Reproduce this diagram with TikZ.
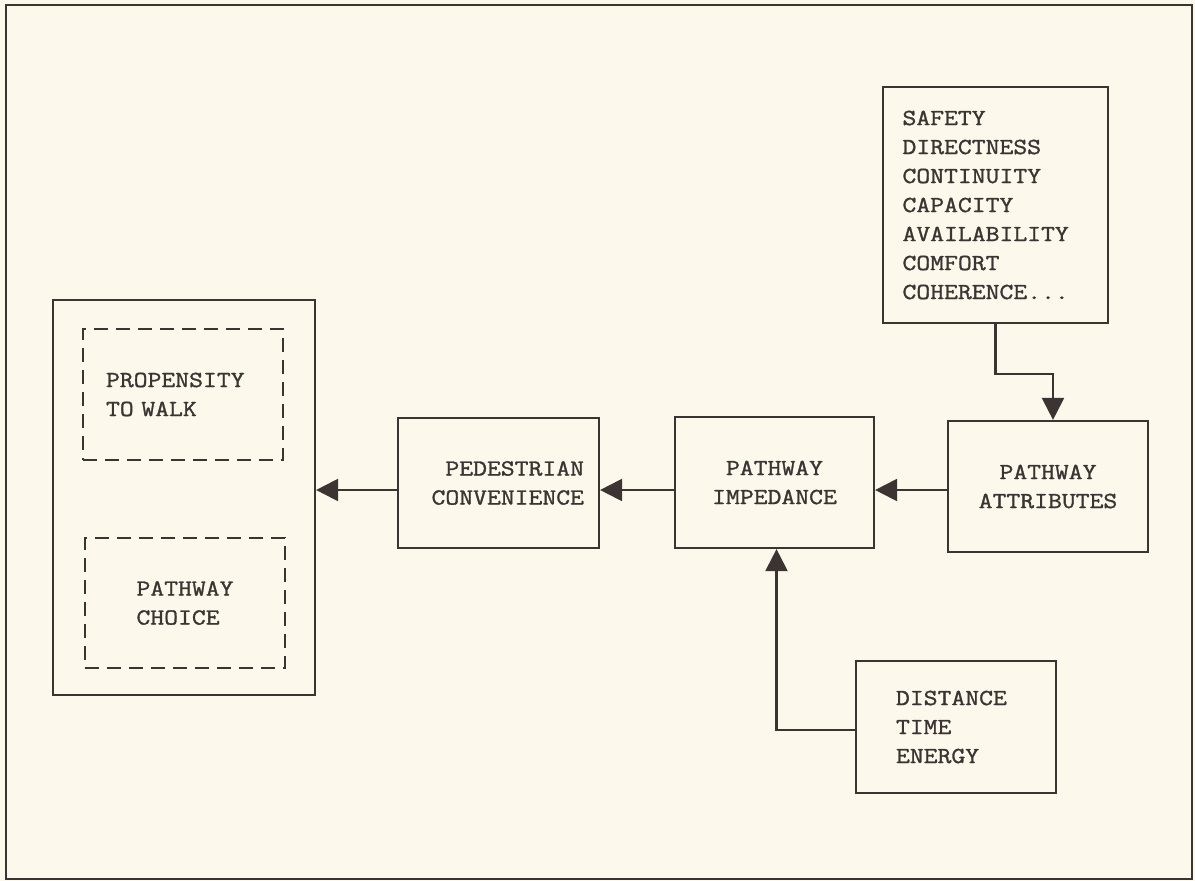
\documentclass[tikz,border=0pt]{standalone}
\usepackage{fontspec}
\newfontfamily\typer{Latin Modern Mono}[FakeStretch=1.17, FakeBold=1.3]
\usepackage{tikz}
\usetikzlibrary{arrows.meta}
\definecolor{ink}{HTML}{3B3432}
\definecolor{paper}{HTML}{FCF8EC}
\tikzset{
  blok/.style={draw=ink, line width=2.2pt, text=ink, inner sep=0pt,
    font=\typer\fontsize{23pt}{29pt}\selectfont},
  dashblok/.style={blok, dash pattern=on 14pt off 8pt},
  feed/.style={draw=ink, line width=2.2pt, -{Triangle[length=22pt,width=22pt]}},
}
\begin{document}
\begin{tikzpicture}[x=1pt,y=-1pt]

    % page
    \fill[paper] (0,0) rectangle (1195,881);
    \useasboundingbox (0,0) rectangle (1195,881);
    \draw[ink, line width=2.2pt] (6,5) rectangle (1192,879);

    % response box
    \node[blok, minimum width=262pt, minimum height=395pt] (response) at (184,497.5) {};
    \node[dashblok, minimum width=200pt, minimum height=131pt, text width=154pt, align=left] (propensity) at (183,394.5) {PROPENSITY\\TO WALK};
    \node[dashblok, minimum width=200pt, minimum height=130pt, align=left] (choice) at (185,603) {PATHWAY\\CHOICE};

    % chain
    \node[blok, minimum width=201pt, minimum height=130pt, text width=171pt, align=right] (convenience) at (498.5,483) {PEDESTRIAN\\CONVENIENCE};
    \node[blok, minimum width=199pt, minimum height=131pt, align=center] (impedance) at (774.5,482.5) {PATHWAY\\IMPEDANCE};
    \node[blok, minimum width=200pt, minimum height=131pt, align=center] (attributes) at (1048,486.5) {PATHWAY\\ATTRIBUTES};

    % inputs
    \node[blok, minimum width=225pt, minimum height=236pt, text width=186pt, align=left] (factors) at (995.5,205) {SAFETY\\DIRECTNESS\\CONTINUITY\\CAPACITY\\AVAILABILITY\\COMFORT\\COHERENCE...};
    \node[blok, minimum width=200pt, minimum height=132pt, text width=120pt, align=left] (measures) at (956,727) {DISTANCE\\TIME\\ENERGY};

    \coordinate (row) at (0,490);
    \draw[feed] (convenience.west |- row) -- (response.east |- row); % convenience -> response
    \draw[feed] (impedance.west |- row) -- (convenience.east |- row); % impedance -> convenience
    \draw[feed] (attributes.west |- row) -- (impedance.east |- row); % attributes -> impedance
    \draw[feed] (factors.south) -- ++(0,50) -| ([xshift=5pt]attributes.north); % factors -> attributes
    \draw[feed] ([yshift=-3pt]measures.west) -| ([xshift=2pt]impedance.south); % measures -> impedance

\end{tikzpicture}
\end{document}
